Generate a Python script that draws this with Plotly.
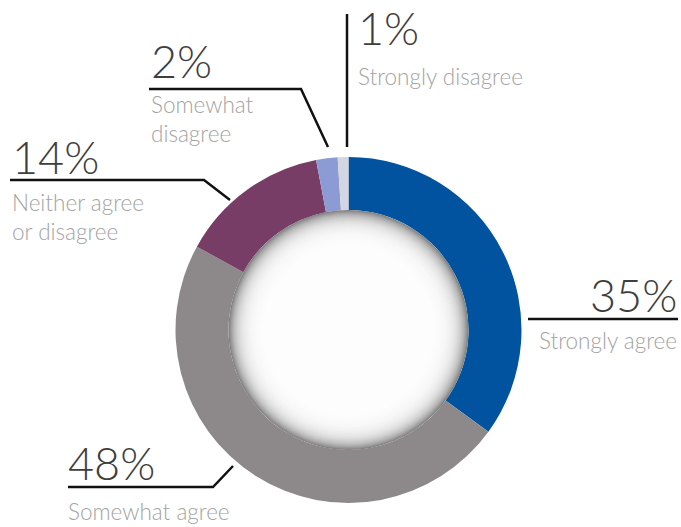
import math
import plotly.graph_objects as go

# Survey responses, clockwise from 12 o'clock
categories = ["Strongly agree", "Somewhat agree", "Neither agree<br>or disagree",
              "Somewhat<br>disagree", "Strongly disagree"]
values = [35, 48, 14, 2, 1]
colors = ["#0153a0", "#8d898a", "#773d67", "#8c9bd3", "#d3d6e0"]

W, H = 681, 527
CX, CY, R_OUT, R_IN = 348.5, 330, 173, 120

fig = go.Figure()

fig.add_trace(go.Pie(
    values=values,
    labels=categories,
    marker=dict(colors=colors, line=dict(width=0)),
    hole=R_IN / R_OUT,
    sort=False,
    direction="clockwise",
    rotation=0,
    textinfo="none",
    hoverinfo="skip",
    showlegend=False,
    domain=dict(x=[(CX - R_OUT) / W, (CX + R_OUT) / W],
                y=[(H - CY - R_OUT) / H, (H - CY + R_OUT) / H]),
))

shapes = []
# soft inner shadow inside the hole: concentric bands fading to white
steps = 34
for i in range(steps + 1):
    r = R_IN - i
    b = int(round(255 - 125 * math.exp(-i / 8.5)))
    shapes.append(dict(type="circle", xref="x", yref="y",
                       x0=CX - r, x1=CX + r, y0=CY - r, y1=CY + r,
                       fillcolor=f"rgb({b},{b},{b})", line=dict(width=0),
                       layer="above"))

# leader lines for each callout (polyline points in pixel space)
leaders = [
    [(528, 319), (678, 319)],
    [(68, 487), (213, 487), (233, 466)],
    [(10, 180), (204, 180), (230, 200)],
    [(149, 89), (301, 89), (328, 147)],
    [(347, 14), (347, 147)],
]
for pts in leaders:
    path = "M " + " L ".join(f"{x},{y}" for x, y in pts)
    shapes.append(dict(type="path", xref="x", yref="y", path=path,
                       line=dict(color="#111111", width=2.5), layer="above"))

# callout text anchors: (x, percent centre y, label centre y, align)
anchors = [
    (679, 295, 340, "right"),
    (66, 463, 511, "left"),
    (10, 157, 217, "left"),
    (149, 61, 119, "left"),
    (356, 28, 76, "left"),
]

FONT = "Lato, 'Source Sans Pro', 'Noto Sans', sans-serif"
annotations = []
for v, cat, (x, yp, yl, al) in zip(values, categories, anchors):
    xa = "right" if al == "right" else "left"
    annotations.append(dict(x=x, y=yp, xref="x", yref="y", text=f"{v}%",
                            showarrow=False, xanchor=xa, yanchor="middle",
                            align=al,
                            font=dict(family=FONT, size=45, color="#3e3e3e",
                                      weight=300)))
    annotations.append(dict(x=x, y=yl, xref="x", yref="y", text=cat,
                            showarrow=False, xanchor=xa, yanchor="middle",
                            align=al,
                            font=dict(family=FONT, size=22.5, color="#a3a3a3",
                                      weight=300)))

fig.update_layout(
    width=W, height=H,
    margin=dict(l=0, r=0, t=0, b=0),
    paper_bgcolor="white", plot_bgcolor="rgba(0,0,0,0)",
    xaxis=dict(range=[0, W], visible=False, fixedrange=True),
    yaxis=dict(range=[H, 0], visible=False, fixedrange=True),
    shapes=shapes,
    annotations=annotations,
    showlegend=False,
)

fig.write_html("out.html")
